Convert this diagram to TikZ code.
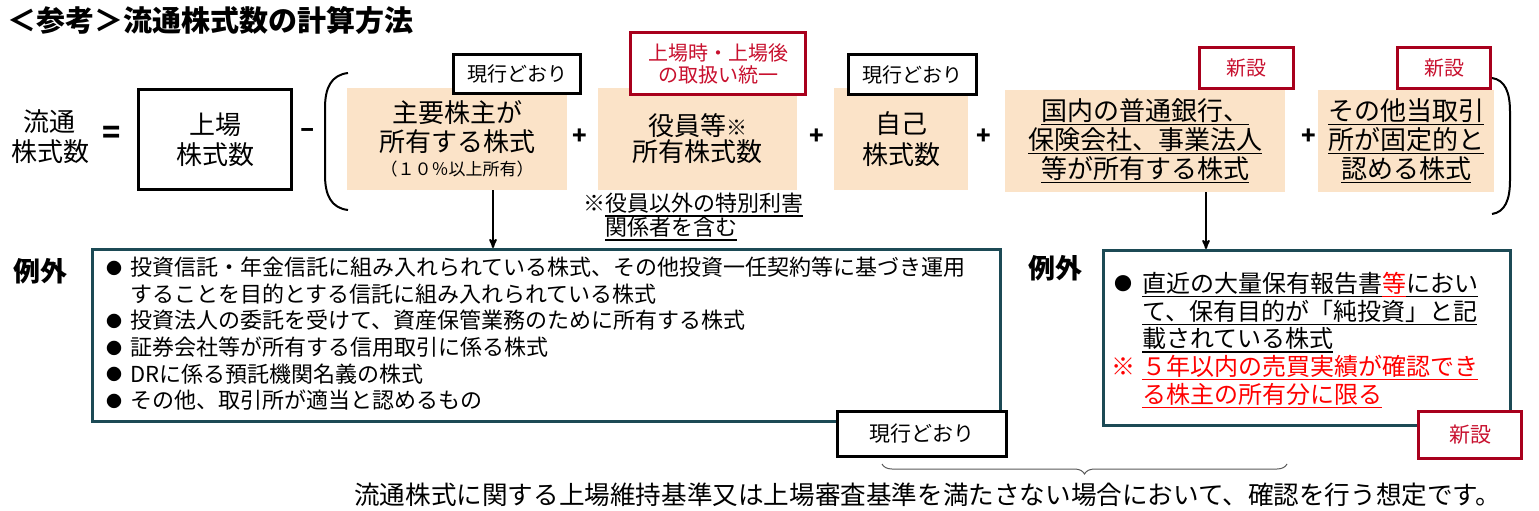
\documentclass[tikz,border=0pt]{standalone}
\usepackage{fontspec}
\setmainfont{Noto Sans CJK JP}
\usetikzlibrary{arrows,positioning,decorations.pathreplacing}
\definecolor{peach}{HTML}{FBE3C8}
\definecolor{tagred}{HTML}{A8001C}
\definecolor{tagtext}{HTML}{C8102E}
\definecolor{notered}{HTML}{FF0000}
\definecolor{exborder}{HTML}{1C4A55}
\newcommand{\fs}[2]{\fontsize{#1}{#2}\selectfont}
\newsavebox{\ulbox}
\newcommand{\uln}[1]{\sbox{\ulbox}{#1}\rlap{\rule[-4.8pt]{\wd\ulbox}{1.2pt}}\usebox{\ulbox}}
\newcommand{\bulA}{\makebox[27pt][l]{\makebox[22pt]{\raisebox{1.5pt}{\fs{16}{16}●}}}}
\newcommand{\bulB}{\makebox[31pt][l]{\makebox[24pt]{\raisebox{1.5pt}{\fs{18}{18}●}}}}

\tikzset{
  peachbox/.style={fill=peach, minimum height=102pt, inner sep=0pt, align=center, font=\fs{26}{29}},
  blacktag/.style={draw=black, line width=3.2pt, fill=white, inner sep=0pt, align=center, font=\fs{20}{22}},
  redtag/.style={draw=tagred, line width=3.2pt, fill=white, text=tagtext, inner sep=0pt, align=center, font=\fs{20}{22}},
  exbox/.style={draw=exborder, line width=3pt, fill=white},
  plus/.style={font=\bfseries\fs{24}{24}},
  bigtxt/.style={align=center, font=\fs{26}{30}},
  heading/.style={font=\bfseries\fs{27}{27}},
}

\begin{document}
\begin{tikzpicture}[x=1pt,y=-1pt,>=stealth']
\useasboundingbox (0,0) rectangle (1539,511);

\node[anchor=west, inner sep=0pt, font=\bfseries\fs{29}{29}] (title) at (7,20) {＜参考＞流通株式数の計算方法};

% left hand side
\node[bigtxt] (lhs) at (50,137) {流通\\株式数};
\node[font=\bfseries\fs{30}{30}] (eq) at (112,135) {=};
\node[draw, line width=3pt, minimum width=153pt, minimum height=100pt, bigtxt] (listed) at (215,139.5) {上場\\株式数};
\node[font=\bfseries\fs{26}{26}] (minus) at (308,133) {–};

% brackets
\draw[line width=2pt] (348,73) .. controls (331,75) and (325,88) .. (325,108) -- (325,175) .. controls (325,195) and (331,208) .. (348,210);
\draw[line width=2pt] (1492,78) .. controls (1505,80) and (1510,92) .. (1510,112) -- (1510,180) .. controls (1510,200) and (1505,212) .. (1492,214);

% deducted shares
\node[peachbox, minimum width=220pt] (major) at (457,139) {主要株主が\\所有する株式\\[-5pt]{\fs{17}{20}（１０％以上所有）}};
\node[peachbox, minimum width=199pt] (officer) at (697.5,139) {\raisebox{-4pt}{役員等{\fs{21}{21}※}}\\[1pt]所有株式数};
\node[peachbox, minimum width=134pt, font=\fs{26}{31}] (own) at (901,139) {自己\\株式数};
\node[peachbox, minimum width=280pt] (bank) at (1145,141) {\uln{国内の普通銀行、}\\\uln{保険会社、事業法人}\\\uln{等が所有する株式}};
\node[peachbox, minimum width=176pt] (other) at (1406,141) {\uln{その他当取引}\\\uln{所が固定的と}\\\uln{認める株式}};

\node[plus] (p1) at (580,137) {+};
\node[plus] (p2) at (817,137) {+};
\node[plus] (p3) at (984,137) {+};
\node[plus] (p4) at (1309,137) {+};

% tags
\node[blacktag, minimum width=127pt, minimum height=39pt] (keep1) at (517,74) {現行どおり};
\node[redtag, minimum width=175pt, minimum height=62pt] (unify) at (718,63.5) {上場時・上場後\\の取扱い統一};
\node[blacktag, minimum width=128pt, minimum height=40pt] (keep2) at (912.5,74.5) {現行どおり};
\node[redtag, minimum width=94pt, minimum height=41pt] (new1) at (1246.5,68) {新設};
\node[redtag, minimum width=93pt, minimum height=41pt] (new2) at (1444,68) {新設};

\node[anchor=north west, inner sep=0pt, align=left, font=\fs{22}{24}] (note) at (583,193) {※\uln{役員以外の特別利害}\\\hphantom{※}\uln{関係者を含む}};

% exceptions
\node[heading] (exc1) at (40,271) {例外};
\node[exbox, minimum width=908pt, minimum height=172pt] (ex1) at (546.5,335.5) {};
\node[anchor=north west, inner sep=0pt, align=left, font=\fs{22}{26.6}] (ex1-t) at (103,257) {\bulA 投資信託・年金信託に組み入れられている株式、その他投資一任契約等に基づき運用\\
\hphantom{\bulA}することを目的とする信託に組み入れられている株式\\
\bulA 投資法人の委託を受けて、資産保管業務のために所有する株式\\
\bulA 証券会社等が所有する信用取引に係る株式\\
\bulA DRに係る預託機関名義の株式\\
\bulA その他、取引所が適当と認めるもの};

\node[heading] (exc2) at (1055,268) {例外};
\node[exbox, minimum width=407pt, minimum height=175pt] (ex2) at (1307,338) {};
\node[anchor=north west, inner sep=0pt, align=left, font=\fs{24}{27.7}] (ex2-t) at (1111,272) {\bulB\uln{直近の大量保有報告書}{\color{notered}\uln{等}}\uln{におい}\\
\hphantom{\bulB}\uln{て、保有目的が「純投資」と記}\\
\hphantom{\bulB}\uln{載されている株式}\\
{\color{notered}\makebox[31pt][l]{※}\uln{５年以内の売買実績が確認でき}}\\
{\color{notered}\hspace{31pt}\uln{る株主の所有分に限る}}};

\node[blacktag, minimum width=169pt, minimum height=45pt, font=\fs{21}{21}] (keep3) at (922,434) {現行どおり};
\node[redtag, minimum width=103pt, minimum height=47pt, font=\fs{21}{21}] (new3) at (1470,435) {新設};

\draw[->, line width=2pt] ([xshift=36pt]major.south) -- ([xshift=36pt]major.south |- ex1.north);
\draw[->, line width=2pt] ([xshift=61pt]bank.south) -- ([xshift=61pt]bank.south |- ex2.north);

% conclusion
\coordinate (bl) at (882,464);
\coordinate (br) at (1287,464);
\draw[decorate, decoration={brace, mirror, amplitude=10pt}, draw=black!65, line width=1pt] (bl) -- (br);
\node[anchor=west, inner sep=0pt, font=\fs{25.6}{26}] (concl) at (354,495) {流通株式に関する上場維持基準又は上場審査基準を満たさない場合において、確認を行う想定です。};
\end{tikzpicture}
\end{document}
